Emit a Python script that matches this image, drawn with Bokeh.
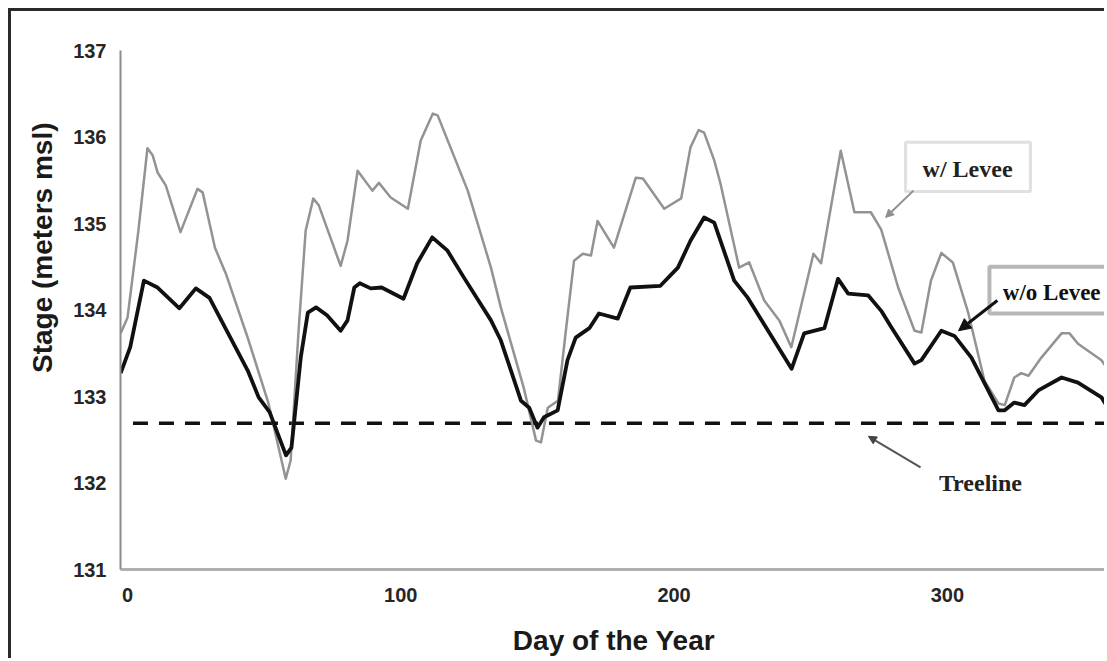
from bokeh.plotting import figure
from bokeh.models import Label, Arrow, NormalHead, BoxAnnotation, FixedTicker, Range1d, Title
from bokeh.embed import file_html
from bokeh.resources import INLINE

# ---- data ----
X_TICKS = [0, 100, 200, 300]
Y_TICKS = [131, 132, 133, 134, 135, 136, 137]

days_wo = [-2.5, 1, 6, 11, 19, 25, 30, 44, 48, 52, 58, 60, 63.4, 66, 69, 73, 78, 80.5,
           83, 85, 89, 93, 101, 106, 111.5, 117, 123, 133, 136.6, 144, 147, 150, 152.4,
           157.4, 161, 164, 169, 172.5, 179.4, 184, 195, 201.4, 206, 211, 214.7, 222,
           227, 243, 247.6, 255, 260, 263.7, 271, 275.8, 279.5, 288, 290.5, 297.8,
           302.6, 308.8, 318.7, 321, 324.5, 328.2, 333.3, 341.8, 347.8, 356.4, 359]
stage_wo = [133.27, 133.57, 134.34, 134.26, 134.02, 134.25, 134.14, 133.30, 132.99,
            132.82, 132.32, 132.41, 133.45, 133.97, 134.03, 133.94, 133.76, 133.88,
            134.26, 134.31, 134.25, 134.26, 134.13, 134.54, 134.84, 134.69, 134.38,
            133.88, 133.65, 132.95, 132.87, 132.64, 132.76, 132.84, 133.42, 133.68,
            133.79, 133.96, 133.90, 134.26, 134.28, 134.49, 134.80, 135.07, 135.01,
            134.34, 134.14, 133.32, 133.73, 133.79, 134.36, 134.19, 134.17, 133.99,
            133.80, 133.38, 133.42, 133.76, 133.70, 133.45, 132.84, 132.84, 132.93,
            132.90, 133.07, 133.22, 133.16, 132.99, 132.86]

days_w = [-2.5, 0, 4, 7.3, 9.2, 11, 14, 19.4, 25.6, 27.5, 32, 36, 44.3, 51.6, 57.9,
          59.7, 62.6, 65.2, 68, 70, 78, 80.5, 84.2, 89.6, 92, 96.3, 102.6, 107.3,
          111.7, 113.5, 124.5, 133, 136.6, 145, 149.5, 151.3, 153.8, 157.5, 160.4,
          163.4, 166.6, 169.6, 172, 178, 186, 188.6, 196.4, 202.6, 206, 209, 211,
          214.7, 217, 223.8, 227.5, 233, 238.5, 242.9, 251, 253.8, 261, 266, 272,
          275.8, 282, 288, 290.5, 294, 297.8, 302, 307.7, 313.6, 318.7, 321, 324.5,
          327, 329.7, 334.4, 341.8, 344.7, 347.8, 356.4, 359]
stage_w = [133.73, 133.91, 134.92, 135.87, 135.79, 135.59, 135.44, 134.90, 135.40,
           135.36, 134.72, 134.42, 133.65, 132.92, 132.05, 132.26, 133.76, 134.92,
           135.29, 135.21, 134.51, 134.80, 135.61, 135.38, 135.47, 135.30, 135.17,
           135.96, 136.27, 136.25, 135.38, 134.49, 134.03, 133.10, 132.49, 132.47,
           132.87, 132.95, 133.76, 134.57, 134.65, 134.63, 135.03, 134.72, 135.53,
           135.52, 135.17, 135.29, 135.88, 136.08, 136.05, 135.73, 135.46, 134.49,
           134.55, 134.11, 133.88, 133.57, 134.65, 134.54, 135.84, 135.13, 135.13,
           134.93, 134.26, 133.76, 133.74, 134.34, 134.66, 134.55, 133.96, 133.18,
           132.92, 132.90, 133.22, 133.27, 133.24, 133.45, 133.73, 133.73, 133.61,
           133.42, 133.30]

treeline_days = [2, 365]
treeline_stage = [132.69, 132.69]

SANS = "Liberation Sans"
SERIF = "Liberation Serif"

p = figure(width=1096, height=650,
           x_range=Range1d(-2.56, 358.6), y_range=Range1d(131, 137),
           output_backend="svg", toolbar_location=None,
           min_border_left=109, min_border_top=39, min_border_right=0,
           min_border_bottom=92,
           styles={"margin-left": "8px", "margin-top": "8px",
                   "border-left": "3px solid #2a2a2a", "border-top": "3px solid #2a2a2a"})
p.outline_line_color = None
p.grid.visible = False
p.background_fill_color = "white"
p.border_fill_color = "white"

for ax, ticks in ((p.xaxis, X_TICKS), (p.yaxis, Y_TICKS)):
    ax.ticker = FixedTicker(ticks=ticks)
    ax.major_tick_line_color = None
    ax.minor_tick_line_color = None
    ax.major_tick_out = 0
    ax.major_tick_in = 0
    ax.major_label_text_font = SANS
    ax.major_label_text_font_style = "bold"
    ax.major_label_text_font_size = "20px"
    ax.major_label_text_color = "#262626"

p.xaxis.axis_line_color = "#b0b0b0"
p.xaxis.axis_line_width = 3
p.yaxis.axis_line_color = "#8c8c8c"
p.yaxis.axis_line_width = 2
p.xaxis.major_label_standoff = 18
p.yaxis.major_label_standoff = 14

# x title as the axis label
p.xaxis.axis_label = "Day of the Year"
p.xaxis.axis_label_standoff = 20
p.xaxis.axis_label_text_font = SANS
p.xaxis.axis_label_text_font_style = "bold"
p.xaxis.axis_label_text_font_size = "28px"
p.xaxis.axis_label_text_color = "#1a1a1a"

# y title as a side title (placed toward the top like the reference)
p.add_layout(Title(text="Stage (meters msl)", align="right", offset=72, standoff=25,
                   text_font=SANS, text_font_style="bold", text_font_size="28px",
                   text_color="#1a1a1a"), "left")

# series
p.line(treeline_days, treeline_stage, line_color="#111111", line_width=3.5,
       line_dash="15 11")
p.line(days_w, stage_w, line_color="#939393", line_width=2.5, line_join="round")
p.line(days_wo, stage_wo, line_color="#111111", line_width=3.8, line_join="round")

# callout boxes
p.add_layout(BoxAnnotation(left=284.7, right=330.4, top=135.94, bottom=135.37,
                           fill_color="white", fill_alpha=1.0,
                           line_color="#999999", line_width=3))
p.add_layout(BoxAnnotation(left=315.4, right=372, top=134.50, bottom=133.96,
                           fill_color="white", fill_alpha=1.0,
                           line_color="#111111", line_width=4))

p.add_layout(Label(x=307.4, y=135.63, text="w/ Levee", text_font=SERIF,
                   text_font_style="bold", text_font_size="24px",
                   text_align="center", text_baseline="middle", text_color="#222222"))
p.add_layout(Label(x=320.3, y=134.20, text="w/o Levee", text_font=SERIF,
                   text_font_style="bold", text_font_size="23px",
                   text_align="left", text_baseline="middle", text_color="#111111"))
p.add_layout(Label(x=312.1, y=132.0, text="Treeline", text_font=SERIF,
                   text_font_style="bold", text_font_size="24px",
                   text_align="center", text_baseline="middle", text_color="#222222"))

# arrows
p.add_layout(Arrow(end=NormalHead(size=8, fill_color="#8f8f8f", line_color="#8f8f8f"),
                   x_start=287.6, y_start=135.38, x_end=277.4, y_end=135.07,
                   line_color="#8f8f8f", line_width=2))
p.add_layout(Arrow(end=NormalHead(size=12, fill_color="#111111", line_color="#111111"),
                   x_start=318.3, y_start=134.11, x_end=304.1, y_end=133.76,
                   line_color="#111111", line_width=3))
p.add_layout(Arrow(end=NormalHead(size=8, fill_color="#444444", line_color="#444444"),
                   x_start=290.2, y_start=132.18, x_end=271.1, y_end=132.54,
                   line_color="#555555", line_width=2))

open("out.html", "w").write(file_html(p, INLINE))
